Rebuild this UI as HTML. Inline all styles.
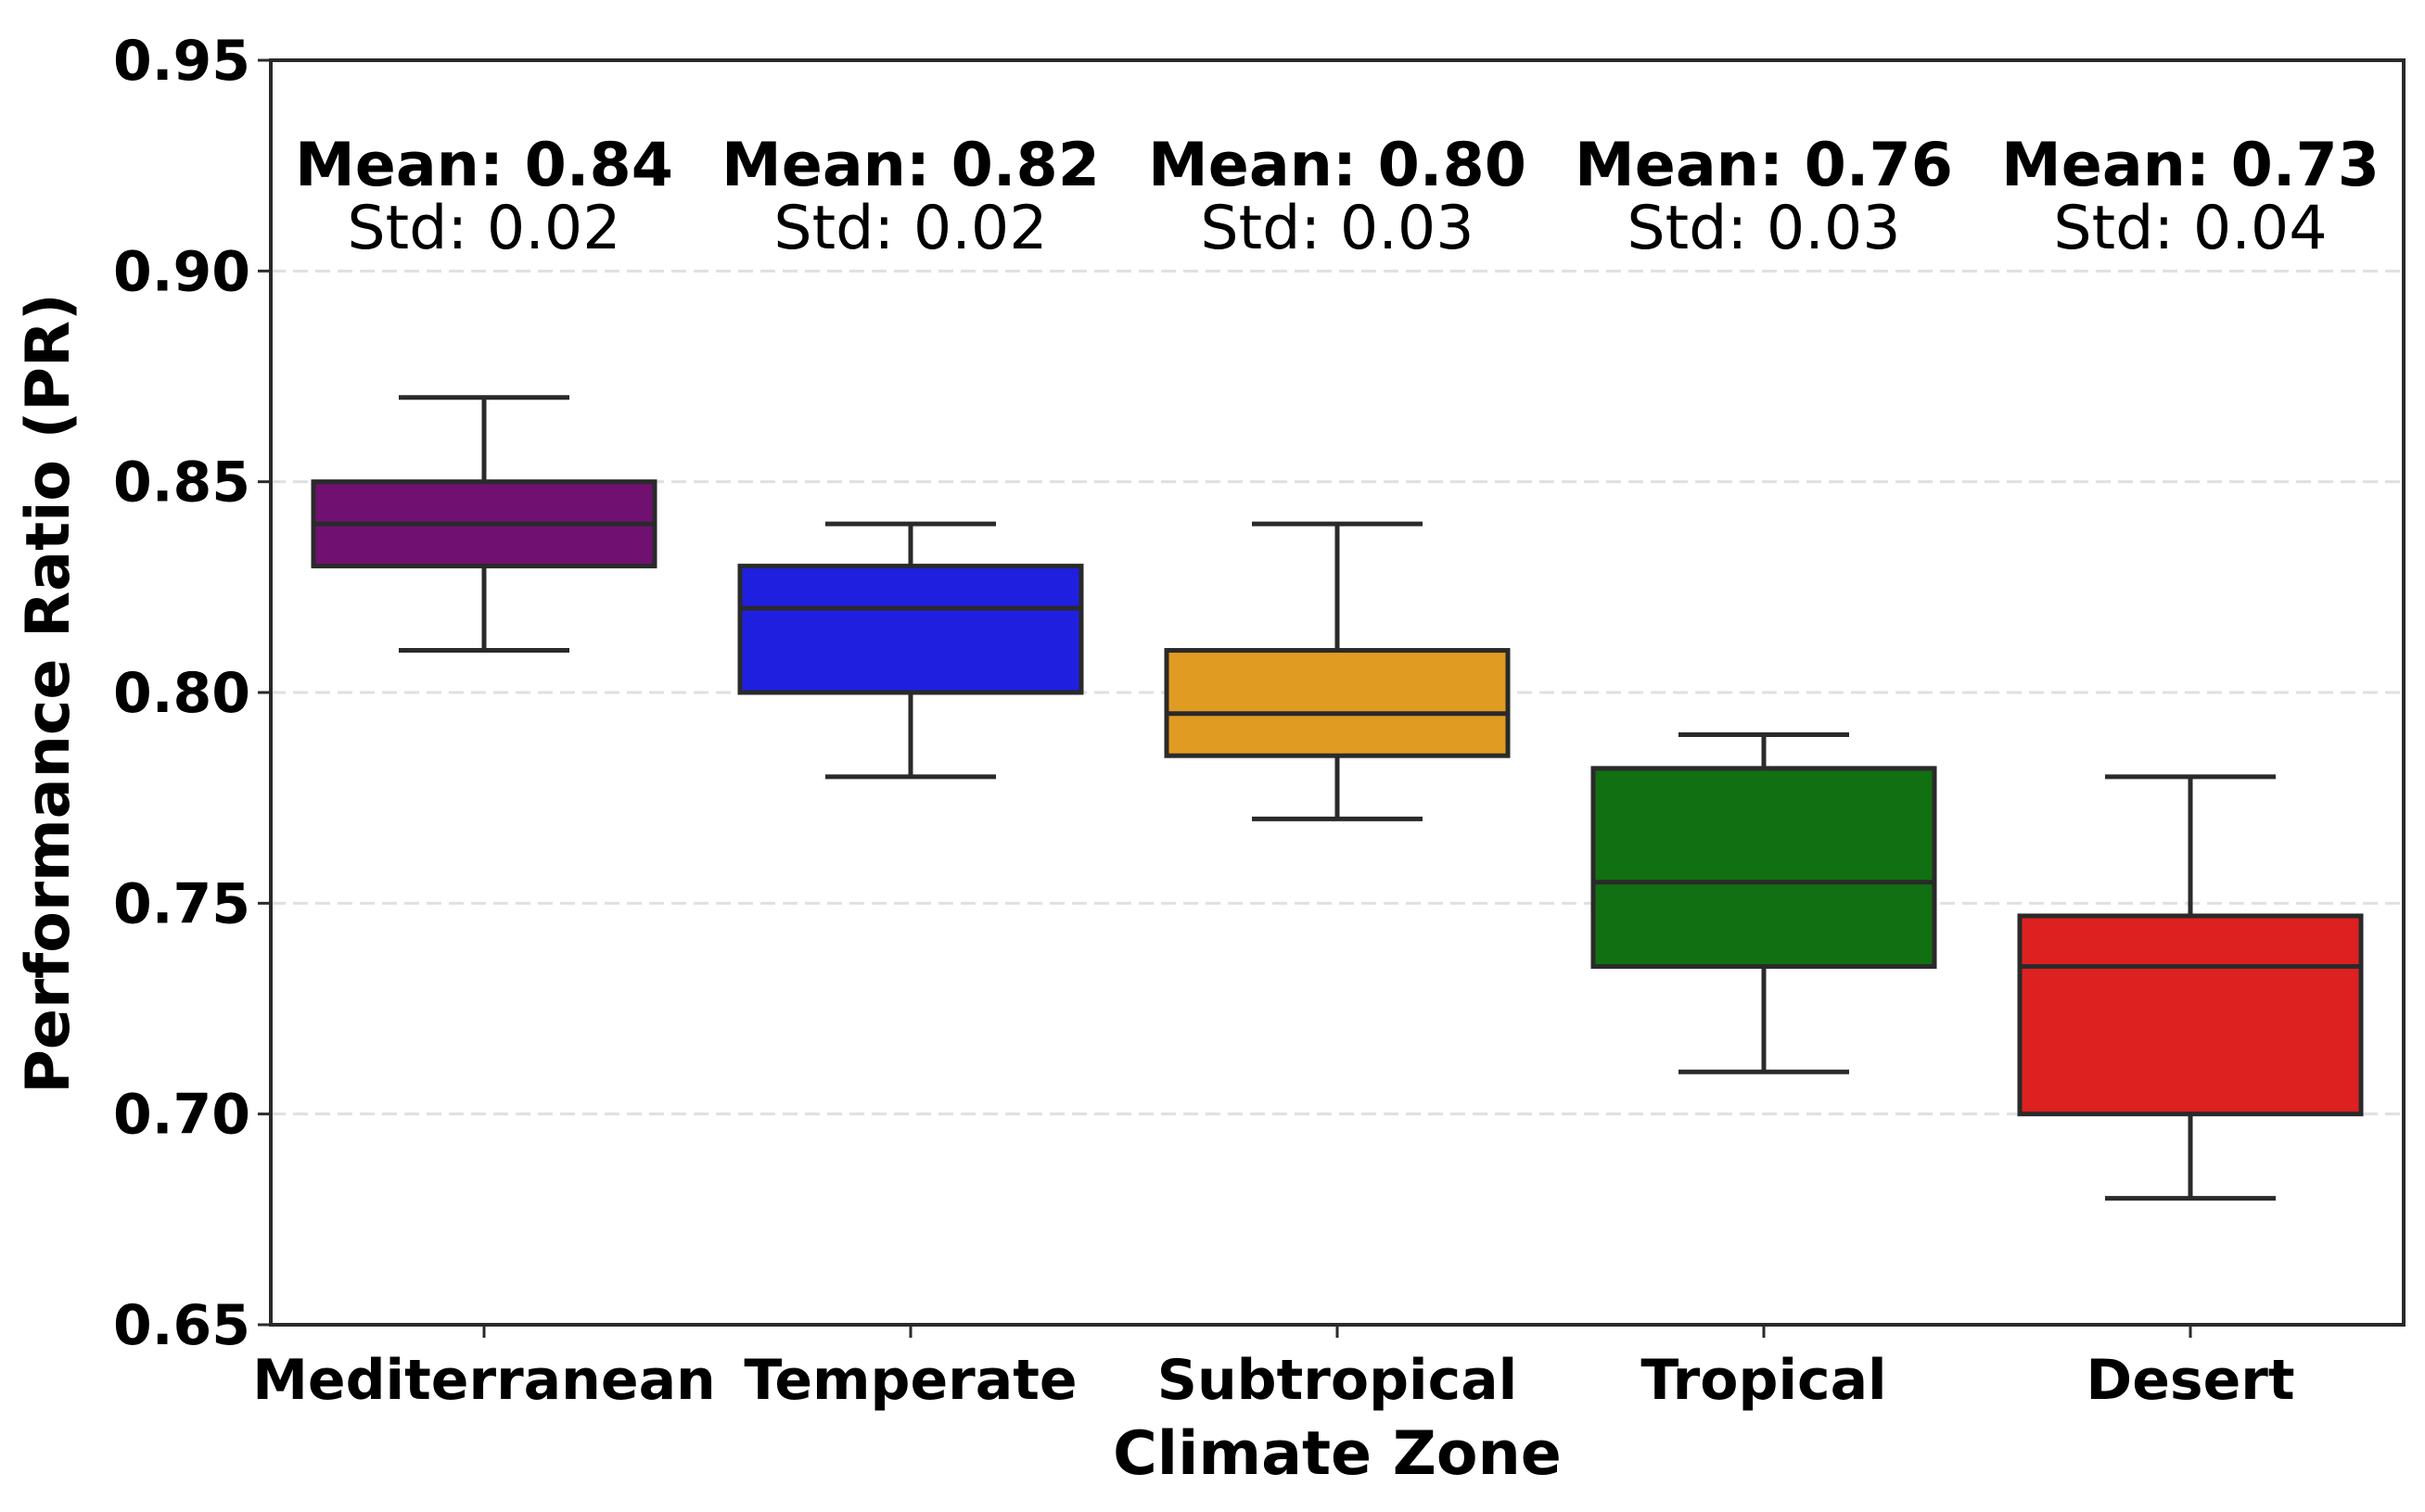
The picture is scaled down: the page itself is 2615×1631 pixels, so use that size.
<!DOCTYPE html>
<html><head><meta charset="utf-8"><style>
html,body{margin:0;padding:0;background:#fff;}
svg{display:block;font-family:"DejaVu Sans","Liberation Sans",sans-serif;}
</style></head><body>
<svg id="chart" width="2615" height="1631" viewBox="0 0 2615 1631" xmlns="http://www.w3.org/2000/svg">
<g id="grid"></g>
<g id="boxes"></g>
<g id="labels"></g>
<rect x="292" y="65" width="2300" height="1364" fill="none" stroke="#2a2a2a" stroke-width="4"/>
<g id="axes"></g>
<text x="1442" y="1590" text-anchor="middle" font-size="65" font-weight="bold">Climate Zone</text>
<text transform="translate(74,748) rotate(-90)" text-anchor="middle" font-size="65" font-weight="bold">Performance Ratio (PR)</text>
</svg>
<script>
const categories = ["Mediterranean","Temperate","Subtropical","Tropical","Desert"];
const whiskerLow = [0.81,0.78,0.77,0.71,0.68];
const q1 = [0.83,0.80,0.785,0.735,0.70];
const medians = [0.84,0.82,0.795,0.755,0.735];
const q3 = [0.85,0.83,0.81,0.782,0.747];
const whiskerHigh = [0.87,0.84,0.84,0.79,0.78];
const means = ["0.84","0.82","0.80","0.76","0.73"];
const stds = ["0.02","0.02","0.03","0.03","0.04"];
const colors = ["#701070","#1f1fe0","#e09b22","#117011","#dd2020"];
const yTicks = [0.65,0.70,0.75,0.80,0.85,0.90,0.95];
const yTickLabels = ["0.65","0.70","0.75","0.80","0.85","0.90","0.95"];

const NS="http://www.w3.org/2000/svg";
const L=292,R=2592,T=65,B=1429,ymin=0.65,ymax=0.95;
const band=(R-L)/categories.length;
const xc=i=>L+band*(i+0.5);
const y=v=>B-(v-ymin)/(ymax-ymin)*(B-T);
function mk(tag,attrs,parent){const e=document.createElementNS(NS,tag);for(const k in attrs)e.setAttribute(k,attrs[k]);parent.appendChild(e);return e;}
const grid=document.getElementById('grid'),boxes=document.getElementById('boxes'),labels=document.getElementById('labels'),axes=document.getElementById('axes');
const ec="#2a2a2a",lw=5;
yTicks.forEach((t,i)=>{
  if(t>ymin&&t<ymax){const g=mk('line',{x1:L,x2:R,y1:y(t),y2:y(t),stroke:"#e0e0e0","stroke-width":3,"stroke-dasharray":"16 8"},grid);
  
  }
  const tk=mk('line',{x1:L-14,x2:L,y1:y(t),y2:y(t),stroke:ec,"stroke-width":3},axes);
  
  
  const tl=mk('text',{x:L-22,y:y(t)+21,"text-anchor":"end","font-size":60,"font-weight":"bold"},axes);
  tl.textContent=yTickLabels[i];
  
  
});
const bw=band*0.8,cw=band*0.4;
categories.forEach((c,i)=>{
  const x=xc(i);
  const g=mk('g',{},boxes);
  
  
  mk('line',{x1:x,x2:x,y1:y(whiskerLow[i]),y2:y(q1[i]),stroke:ec,"stroke-width":lw},g);
  mk('line',{x1:x,x2:x,y1:y(q3[i]),y2:y(whiskerHigh[i]),stroke:ec,"stroke-width":lw},g);
  mk('line',{x1:x-cw/2,x2:x+cw/2,y1:y(whiskerLow[i]),y2:y(whiskerLow[i]),stroke:ec,"stroke-width":lw},g);
  mk('line',{x1:x-cw/2,x2:x+cw/2,y1:y(whiskerHigh[i]),y2:y(whiskerHigh[i]),stroke:ec,"stroke-width":lw},g);
  mk('rect',{x:x-bw/2,y:y(q3[i]),width:bw,height:y(q1[i])-y(q3[i]),fill:colors[i],stroke:ec,"stroke-width":lw},g);
  mk('line',{x1:x-bw/2,x2:x+bw/2,y1:y(medians[i]),y2:y(medians[i]),stroke:ec,"stroke-width":lw},g);
  const tk=mk('line',{x1:x,x2:x,y1:B,y2:B+14,stroke:ec,"stroke-width":3},axes);
  
  
  const xl=mk('text',{x:x,y:1509,"text-anchor":"middle","font-size":60,"font-weight":"bold"},axes);
  xl.textContent=c;
  
  
  const m=mk('text',{x:x,y:200,"text-anchor":"middle","font-size":65,"font-weight":"bold"},labels);
  m.textContent="Mean: "+means[i];
  
  
  const s=mk('text',{x:x,y:268,"text-anchor":"middle","font-size":65},labels);
  s.textContent="Std: "+stds[i];
  
  
});
</script>
</body></html>
